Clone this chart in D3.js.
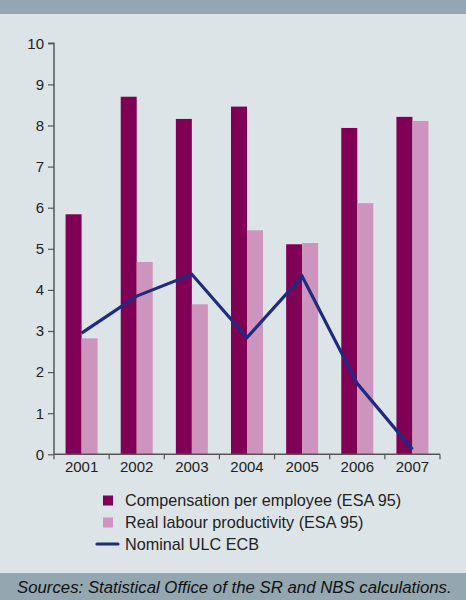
<!DOCTYPE html>
<html>
<head>
<meta charset="utf-8">
<script src="https://cdn.jsdelivr.net/npm/d3@7"></script>
<style>
  html, body { margin: 0; padding: 0; background: #dde4e8; }
  svg { display: block; }
</style>
</head>
<body>
<svg id="chart" width="466" height="600"></svg>
<script>
// Years on the category axis
const years = ["2001", "2002", "2003", "2004", "2005", "2006", "2007"];
// Compensation per employee (ESA 95), % growth
const compensation = [5.84, 8.70, 8.16, 8.46, 5.11, 7.94, 8.21];
// Real labour productivity (ESA 95), % growth
const productivity = [2.82, 4.68, 3.65, 5.45, 5.14, 6.11, 8.11];
// Nominal ULC ECB, % growth
const ulc = [2.95, 3.85, 4.38, 2.84, 4.33, 1.72, 0.12];
// Y axis ticks
const yTicks = [0, 1, 2, 3, 4, 5, 6, 7, 8, 9, 10];

const seriesNames = [
  "Compensation per employee (ESA 95)",
  "Real labour productivity (ESA 95)",
  "Nominal ULC ECB"
];
const colDark = "#7f0055";
const colLight = "#cd94bd";
const colLine = "#1d2b80";
const textCol = "#222";
const fontFam = "'Liberation Sans', Arial, sans-serif";

const svg = d3.select("#chart");
const W = 466, H = 600;

// Background panel, header strip and footer band
svg.append("rect").attr("width", W).attr("height", H).attr("fill", "#dde4e8");
svg.append("rect").attr("width", W).attr("height", 14).attr("fill", "#94a6b0");
svg.append("rect").attr("y", 573).attr("width", W).attr("height", 27).attr("fill", "#94a6b0");

const plot = { left: 54, right: 440, top: 43.3, bottom: 454.3 };

const x = d3.scaleBand().domain(years).range([plot.left, plot.right]).padding(0);
const y = d3.scaleLinear().domain([0, 10]).range([plot.bottom, plot.top]);
const barW = 16;

// Bars
const g = svg.append("g");
years.forEach((yr, i) => {
  const cx = x(yr) + x.bandwidth() / 2;
  g.append("rect")
    .attr("x", cx - barW).attr("width", barW)
    .attr("y", y(compensation[i])).attr("height", y(0) - y(compensation[i]))
    .attr("fill", colDark);
  g.append("rect")
    .attr("x", cx).attr("width", barW)
    .attr("y", y(productivity[i])).attr("height", y(0) - y(productivity[i]))
    .attr("fill", colLight);
});

// ULC line
const line = d3.line()
  .x((d, i) => x(years[i]) + x.bandwidth() / 2)
  .y(d => y(d));
svg.append("path").datum(ulc)
  .attr("d", line)
  .attr("fill", "none")
  .attr("stroke", colLine)
  .attr("stroke-width", 3.2)
  .attr("stroke-linejoin", "miter");

// Y axis
const yAxis = svg.append("g")
  .attr("transform", `translate(${plot.left},0)`)
  .call(d3.axisLeft(y).tickValues(yTicks).tickSize(6).tickPadding(4).tickFormat(d3.format("d")));
// X axis (ticks at category boundaries)
const xAxis = svg.append("g")
  .attr("transform", `translate(0,${plot.bottom})`)
  .call(d3.axisBottom(x).tickSize(0).tickPadding(7));
const boundaries = d3.range(years.length + 1).map(i => plot.left + i * x.bandwidth());
xAxis.selectAll(".bt").data(boundaries).enter().append("line")
  .attr("class", "bt")
  .attr("x1", d => d).attr("x2", d => d)
  .attr("y1", 0).attr("y2", 5)
  .attr("stroke", "#555").attr("stroke-width", 1.2);

[yAxis, xAxis].forEach(a => {
  a.select(".domain").attr("stroke", "#555").attr("stroke-width", 1.5);
  a.selectAll(".tick line").attr("stroke", "#555").attr("stroke-width", 1.2);
  a.selectAll("text").attr("fill", textCol).attr("font-family", fontFam).attr("font-size", 15);
});
yAxis.select(".domain").attr("d", `M-6,${plot.top}H0V${plot.bottom}`);
xAxis.select(".domain").attr("d", `M${plot.left},0H${plot.right}`);

// Legend
const leg = svg.append("g").attr("font-family", fontFam).attr("font-size", 16.2).attr("fill", textCol);
const rows = [500.5, 522.5, 544];
leg.append("rect").attr("x", 103).attr("y", rows[0] - 5).attr("width", 10).attr("height", 10).attr("fill", colDark);
leg.append("rect").attr("x", 103).attr("y", rows[1] - 5).attr("width", 10).attr("height", 10).attr("fill", colLight);
leg.append("line").attr("x1", 97).attr("x2", 118).attr("y1", rows[2]).attr("y2", rows[2])
  .attr("stroke", colLine).attr("stroke-width", 3.2).attr("stroke-linecap", "round");
seriesNames.forEach((s, i) => {
  leg.append("text").attr("x", 125).attr("y", rows[i]).attr("dy", "0.35em").text(s);
});

// Source note
svg.append("text")
  .attr("x", 17).attr("y", 587).attr("dy", "0.35em")
  .attr("font-family", fontFam).attr("font-style", "italic").attr("font-size", 16.8)
  .attr("fill", "#111")
  .text("Sources: Statistical Office of the SR and NBS calculations.");
</script>
</body>
</html>
